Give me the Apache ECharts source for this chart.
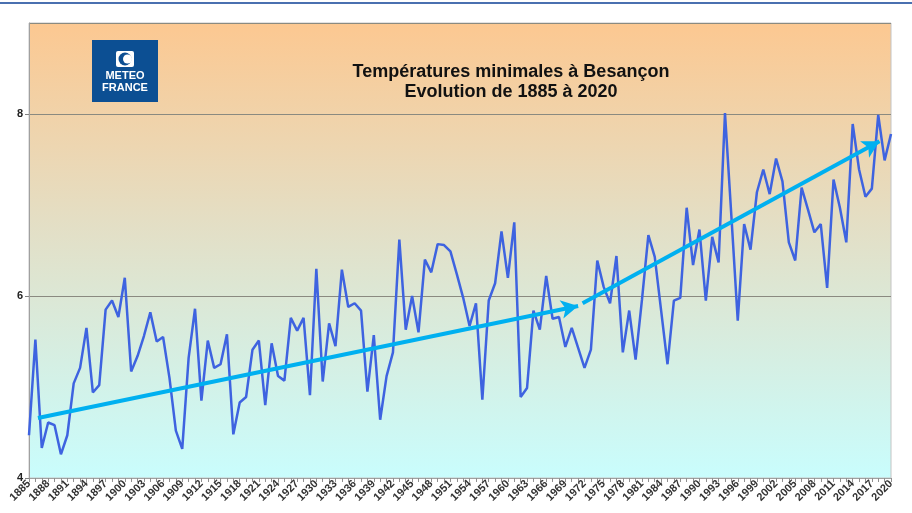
<!DOCTYPE html>
<html>
<head>
<meta charset="utf-8">
<script src="https://cdn.jsdelivr.net/npm/echarts@6/dist/echarts.min.js"></script>
<style>
  html, body { margin: 0; padding: 0; background: #fff; }
  #chart { width: 912px; height: 513px; }
</style>
</head>
<body>
<div id="chart"></div>
<script>
// années 1885 -> 2020
var years = []
for (var y = 1885; y <= 2020; y++) years.push(y)

// températures minimales moyennes annuelles (°C)
var tmin = [
  4.47, 5.52, 4.33, 4.61, 4.58, 4.26, 4.47, 5.04, 5.21, 5.65,
  4.94, 5.02, 5.85, 5.95, 5.77, 6.20, 5.17, 5.34, 5.56, 5.82,
  5.50, 5.55, 5.10, 4.52, 4.32, 5.32, 5.86, 4.85, 5.51, 5.21,
  5.25, 5.58, 4.48, 4.83, 4.89, 5.41, 5.51, 4.80, 5.48, 5.12,
  5.07, 5.76, 5.62, 5.76, 4.91, 6.30, 5.06, 5.70, 5.45, 6.29,
  5.88, 5.92, 5.84, 4.95, 5.57, 4.64, 5.12, 5.38, 6.62, 5.63,
  6.00, 5.60, 6.40, 6.26, 6.57, 6.56, 6.49, 6.24, 5.98, 5.67,
  5.92, 4.86, 5.95, 6.14, 6.71, 6.20, 6.81, 4.89, 4.99, 5.84,
  5.63, 6.22, 5.75, 5.77, 5.44, 5.65, 5.43, 5.21, 5.41, 6.39,
  6.10, 5.92, 6.44, 5.38, 5.84, 5.30, 5.96, 6.67, 6.43, 5.84,
  5.25, 5.95, 5.98, 6.97, 6.34, 6.73, 5.95, 6.65, 6.37, 8.01,
  6.88, 5.73, 6.79, 6.51, 7.14, 7.39, 7.12, 7.51, 7.26, 6.59,
  6.39, 7.19, 6.95, 6.70, 6.79, 6.09, 7.28, 6.97, 6.59, 7.89,
  7.39, 7.09, 7.18, 7.99, 7.49, 7.78
]

// flèches de tendance [année, valeur]
var trend1Start = [1886.4, 4.66]
var trend1End = [1971.0, 5.89]
var trend2Start = [1971.7, 5.92]
var trend2End = [2018.2, 7.70]

var yTicks = [4, 6, 8]

var chart = echarts.init(document.getElementById('chart'))

var option = {
  animation: false,
  title: {
    text: 'Températures minimales à Besançon\nEvolution de 1885 à 2020',
    left: 506,
    top: 57,
    textAlign: 'center',
    textStyle: {
      fontFamily: 'Liberation Sans',
      fontSize: 18,
      fontWeight: 'bold',
      lineHeight: 20,
      color: '#111'
    }
  },
  grid: {
    left: 29,
    right: 21,
    top: 23,
    bottom: 35,
    show: true,
    borderColor: '#c4c4c4',
    borderWidth: 1,
    backgroundColor: new echarts.graphic.LinearGradient(0, 0, 0, 1, [
      { offset: 0, color: '#fcc891' },
      { offset: 0.45, color: '#e3dfc6' },
      { offset: 1, color: '#c9fdfd' }
    ])
  },
  xAxis: {
    type: 'value',
    min: 1885,
    max: 2020,
    interval: 3,
    axisLine: { lineStyle: { color: '#a0a0a0' } },
    axisTick: { show: true, length: 4, lineStyle: { color: '#909090' } },
    minorTick: { show: true, splitNumber: 3, length: 4, lineStyle: { color: '#909090' } },
    splitLine: { show: false },
    axisLabel: {
      rotate: 45,
      margin: 4,
      fontFamily: 'Liberation Sans',
      fontSize: 11,
      fontWeight: 'bold',
      color: '#333',
      formatter: function (v) { return String(v) }
    }
  },
  yAxis: {
    type: 'value',
    min: 4,
    max: 9,
    interval: 2,
    axisLine: { show: true, lineStyle: { color: '#a0a0a0' } },
    axisTick: { show: true, length: 4, lineStyle: { color: '#808080' } },
    splitLine: { show: true, lineStyle: { color: '#8a8a80', width: 1 } },
    axisLabel: {
      showMaxLabel: false,
      margin: 6,
      fontFamily: 'Liberation Sans',
      fontSize: 11,
      fontWeight: 'bold',
      color: '#222',
      formatter: function (v) { return yTicks.indexOf(v) >= 0 ? String(v) : '' }
    }
  },
  series: [
    {
      name: 'Tmin',
      type: 'line',
      data: years.map(function (y, i) { return [y, tmin[i]] }),
      symbol: 'none',
      lineStyle: { color: '#3e63e0', width: 2.5 },
      z: 2
    },
    {
      name: 'tendance',
      type: 'line',
      data: [],
      markLine: {
        silent: true,
        symbol: ['none', 'arrow'],
        symbolSize: [14, 17],
        label: { show: false },
        lineStyle: { color: '#00b0f0', width: 4, type: 'solid' },
        data: [
          [{ coord: trend1Start }, { coord: trend1End }],
          [{ coord: trend2Start }, { coord: trend2End }]
        ]
      },
      z: 3
    }
  ],
  graphic: [
    {
      type: 'line',
      shape: { x1: 0, y1: 3, x2: 912, y2: 3 },
      style: { stroke: '#4a70b0', lineWidth: 2 },
      silent: true
    },
    {
      type: 'group',
      left: 92,
      top: 40,
      children: [
        { type: 'rect', shape: { x: 0, y: 0, width: 66, height: 62 }, style: { fill: '#0c4f93' } },
        { type: 'rect', shape: { x: 24, y: 11, width: 18, height: 16, r: 2 }, style: { fill: '#ffffff' } },
        { type: 'circle', shape: { cx: 33, cy: 19, r: 6.5 }, style: { fill: '#0c4f93' } },
        { type: 'circle', shape: { cx: 35.5, cy: 19, r: 4.5 }, style: { fill: '#ffffff' } },
        {
          type: 'text', x: 33, y: 30,
          style: { text: 'METEO', fill: '#fff', font: 'bold 11px "Liberation Sans"', align: 'center' }
        },
        {
          type: 'text', x: 33, y: 42,
          style: { text: 'FRANCE', fill: '#fff', font: 'bold 11px "Liberation Sans"', align: 'center' }
        }
      ]
    }
  ]
}

chart.setOption(option)
</script>
</body>
</html>
